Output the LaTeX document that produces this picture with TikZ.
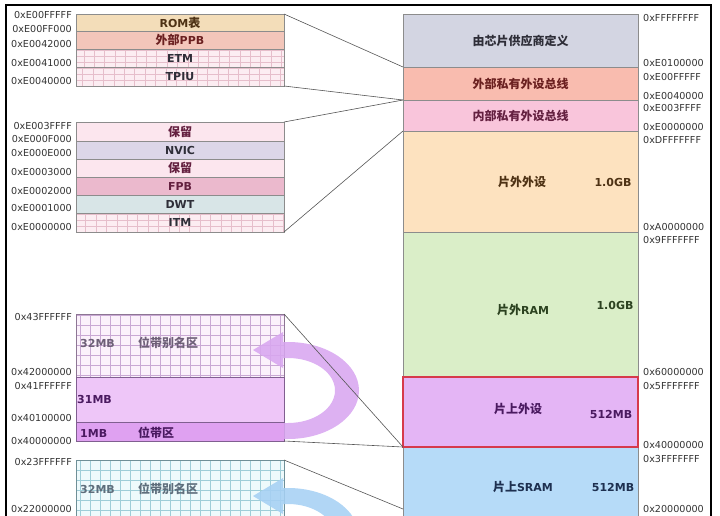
\documentclass[tikz,border=0pt]{standalone}
\usepackage{fontspec}
\setmainfont{DejaVu Sans}
\newfontfamily\cjk{Noto Sans CJK SC}
\newcommand\zh[1]{{\cjk\fontsize{12}{14}\selectfont #1}}

\definecolor{boxline}{HTML}{8C8C8C}
\definecolor{linkline}{HTML}{555555}
\definecolor{addrtext}{HTML}{333333}
\definecolor{romfill}{HTML}{F3DDB9}
\definecolor{ppbfill}{HTML}{F3C6BA}
\definecolor{etmfill}{HTML}{FCEDF2}
\definecolor{etmgrid}{HTML}{E6BECB}
\definecolor{resfill}{HTML}{FCE6EE}
\definecolor{nvicfill}{HTML}{DCD6E8}
\definecolor{fpbfill}{HTML}{EBB9CD}
\definecolor{dwtfill}{HTML}{D8E5E7}
\definecolor{pgridfill}{HTML}{FBF1FB}
\definecolor{pgrid}{HTML}{C9A8D4}
\definecolor{p31fill}{HTML}{EEC6F8}
\definecolor{p1fill}{HTML}{DFA1F1}
\definecolor{bgridfill}{HTML}{EEFAFC}
\definecolor{bgrid}{HTML}{9ECDD8}
\definecolor{vendorfill}{HTML}{D3D5E2}
\definecolor{extppbfill}{HTML}{F9BCAF}
\definecolor{intppbfill}{HTML}{F9C5DB}
\definecolor{extdevfill}{HTML}{FDE2BF}
\definecolor{extramfill}{HTML}{DAEEC8}
\definecolor{onchipfill}{HTML}{E4B5F5}
\definecolor{onchipline}{HTML}{D63A4C}
\definecolor{sramfill}{HTML}{B6DBF8}
\definecolor{purplearrow}{HTML}{D8A6F0}
\definecolor{bluearrow}{HTML}{A6D0F4}
\definecolor{browntext}{HTML}{4E3214}
\definecolor{redtext}{HTML}{6B2020}
\definecolor{rosetext}{HTML}{642040}
\definecolor{darktext}{HTML}{2E2E38}
\definecolor{greentext}{HTML}{2C4220}
\definecolor{violettext}{HTML}{4A1A60}
\definecolor{bluetext}{HTML}{1E3050}
\definecolor{aliastext}{HTML}{6E6078}
\definecolor{baliastext}{HTML}{5E6E7C}

\begin{document}
\begin{tikzpicture}[x=1pt, y=-1pt,
  membox/.style={draw=boxline, line width=0.6pt, inner sep=0pt, outer sep=0pt,
    font=\bfseries\fontsize{11}{13}\selectfont},
  leftbox/.style={membox, minimum width=208pt},
  rightbox/.style={membox, minimum width=235pt},
  finegrid/.style={path picture={\draw[draw=#1, line width=0.35pt]
    (path picture bounding box.south west) grid[xstep=10.4pt, ystep=6pt]
    (path picture bounding box.north east);}},
  coarsegrid/.style={path picture={\draw[draw=#1, line width=0.4pt]
    (path picture bounding box.south west) grid[step=10pt]
    (path picture bounding box.north east);}},
  addrL/.style={anchor=east, inner sep=0pt, text=addrtext, font=\fontsize{9.6}{11}\selectfont},
  addrR/.style={addrL, anchor=west},
  tag/.style={inner sep=0pt, font=\bfseries\fontsize{11}{13}\selectfont},
  link/.style={draw=linkline, line width=0.6pt}]
\useasboundingbox (0,0) rectangle (720,516);
\clip (0,0) rectangle (720,516);

% frame
\draw[line width=2.2pt] (6,5.3) rectangle (711,560);

% private peripheral bus, external
\node[leftbox, fill=romfill, minimum height=17pt, text=browntext] (rom) at (180,22.5) {ROM\zh{表}};
\node[leftbox, fill=ppbfill, minimum height=18pt, text=redtext] (ppb) at (180,40) {\zh{外部}PPB};
\node[leftbox, fill=etmfill, finegrid=etmgrid, minimum height=18pt, text=darktext] (etm) at (180,58) {ETM};
\node[leftbox, fill=etmfill, finegrid=etmgrid, minimum height=19pt, text=darktext] (tpiu) at (180,76.5) {TPIU};

% private peripheral bus, internal
\node[leftbox, fill=resfill, minimum height=19pt, text=rosetext] (res1) at (180,131.5) {\zh{保留}};
\node[leftbox, fill=nvicfill, minimum height=18pt, text=darktext] (nvic) at (180,150) {NVIC};
\node[leftbox, fill=resfill, minimum height=18pt, text=rosetext] (res2) at (180,168) {\zh{保留}};
\node[leftbox, fill=fpbfill, minimum height=18pt, text=rosetext] (fpb) at (180,186) {FPB};
\node[leftbox, fill=dwtfill, minimum height=18pt, text=darktext] (dwt) at (180,204) {DWT};
\node[leftbox, fill=etmfill, finegrid=etmgrid, minimum height=19pt, text=darktext] (itm) at (180,222.5) {ITM};

% bit band, peripherals
\node[leftbox, fill=pgridfill, coarsegrid=pgrid, draw=pgrid!70!black, minimum height=63pt] (palias) at (180,345.5) {};
\node[leftbox, fill=p31fill, draw=violettext!70, minimum height=45pt] (p31) at (180,399.5) {};
\node[leftbox, fill=p1fill, draw=violettext!70, minimum height=19pt] (p1) at (180,431.5) {};
\node[tag, anchor=west, text=aliastext] (pmb32) at (80,343) {32MB};
\node[tag, anchor=west, text=aliastext] (palname) at (138,343) {\zh{位带别名区}};
\node[tag, anchor=west, text=violettext] (pmb31) at (77,399) {31MB};
\node[tag, anchor=west, text=violettext] (pmb1) at (80,433) {1MB};
\node[tag, anchor=west, text=violettext] (pbandname) at (138,433) {\zh{位带区}};

% bit band, SRAM
\node[leftbox, fill=bgridfill, coarsegrid=bgrid, draw=bgrid!70!black, minimum height=80pt] (balias) at (180,500) {};
\node[tag, anchor=west, text=baliastext] (bmb32) at (80,489) {32MB};
\node[tag, anchor=west, text=baliastext] (balname) at (138,489) {\zh{位带别名区}};

% memory map
\node[rightbox, fill=vendorfill, minimum height=53pt, text=darktext] (vendor) at (520.5,40.5) {\zh{由芯片供应商定义}};
\node[rightbox, fill=extppbfill, minimum height=33pt, text=redtext] (extppb) at (520.5,83.5) {\zh{外部私有外设总线}};
\node[rightbox, fill=intppbfill, minimum height=31pt, text=rosetext] (intppb) at (520.5,115.5) {\zh{内部私有外设总线}};
\node[rightbox, fill=extdevfill, minimum height=101pt] (extdev) at (520.5,181.5) {};
\node[rightbox, fill=extramfill, minimum height=145pt] (extram) at (520.5,304.5) {};
\node[rightbox, fill=sramfill, minimum height=71pt] (sram) at (520.5,482.5) {};
\node[rightbox, fill=onchipfill, draw=onchipline, line width=2pt, minimum height=70pt] (onchip) at (520.5,412) {};
\node[tag, text=browntext] (extdevname) at (522,182) {\zh{片外外设}};
\node[tag, text=browntext] (extdevsize) at (613,182) {1.0GB};
\node[tag, text=greentext] (extramname) at (523,310) {\zh{片外}RAM};
\node[tag, text=greentext] (extramsize) at (615,305) {1.0GB};
\node[tag, text=violettext] (onchipname) at (518,409) {\zh{片上外设}};
\node[tag, text=violettext] (onchipsize) at (611,414) {512MB};
\node[tag, text=bluetext] (sramname) at (523,487) {\zh{片上}SRAM};
\node[tag, text=bluetext] (sramsize) at (613,487) {512MB};

% bit band arrows
\foreach \dy/\col in {0/purplearrow, 146/bluearrow} {
  \begin{scope}[shift={(0,\dy)}]
    \fill[\col, fill opacity=0.88] (284,439) -- (288,439)
      arc[start angle=90, end angle=-90, x radius=71, y radius=48.5]
      -- (283,342) -- (283,332) -- (253,350) -- (283,368) -- (283,358) -- (288,358)
      arc[start angle=-90, end angle=90, x radius=47, y radius=32.5]
      -- (284,423) -- cycle;
  \end{scope}
}

% zoom lines
\coordinate (sramcut) at (403,509);
\draw[link] (rom.north east) -- (extppb.north west);
\draw[link] (tpiu.south east) -- (intppb.north west);
\draw[link] (res1.north east) -- (intppb.north west);
\draw[link] (itm.south east) -- (extdev.north west);
\draw[link] (palias.north east) -- (onchip.south west);
\draw[link] (p1.south east) -- (sram.north west);
\draw[link] (balias.north east) -- (sramcut);

% addresses, left
\foreach \y/\a in {15/0xE00FFFFF, 29/0xE00FF000, 44/0xE0042000, 63/0xE0041000, 81/0xE0040000,
    126/0xE003FFFF, 139/0xE000F000, 153/0xE000E000, 172/0xE0003000, 191/0xE0002000,
    208/0xE0001000, 227/0xE0000000, 317/0x43FFFFFF, 372/0x42000000, 386/0x41FFFFFF,
    418/0x40100000, 441/0x40000000, 462/0x23FFFFFF, 509/0x22000000}
  \node[addrL] (l-\a) at (72,\y) {\a};

% addresses, right
\foreach \y/\a in {18/0xFFFFFFFF, 63/0xE0100000, 77/0xE00FFFFF, 96/0xE0040000, 108/0xE003FFFF,
    127/0xE0000000, 140/0xDFFFFFFF, 227/0xA0000000, 240/0x9FFFFFFF, 372/0x60000000,
    386/0x5FFFFFFF, 445/0x40000000, 459/0x3FFFFFFF, 509/0x20000000}
  \node[addrR] (r-\a) at (643,\y) {\a};
\end{tikzpicture}
\end{document}
